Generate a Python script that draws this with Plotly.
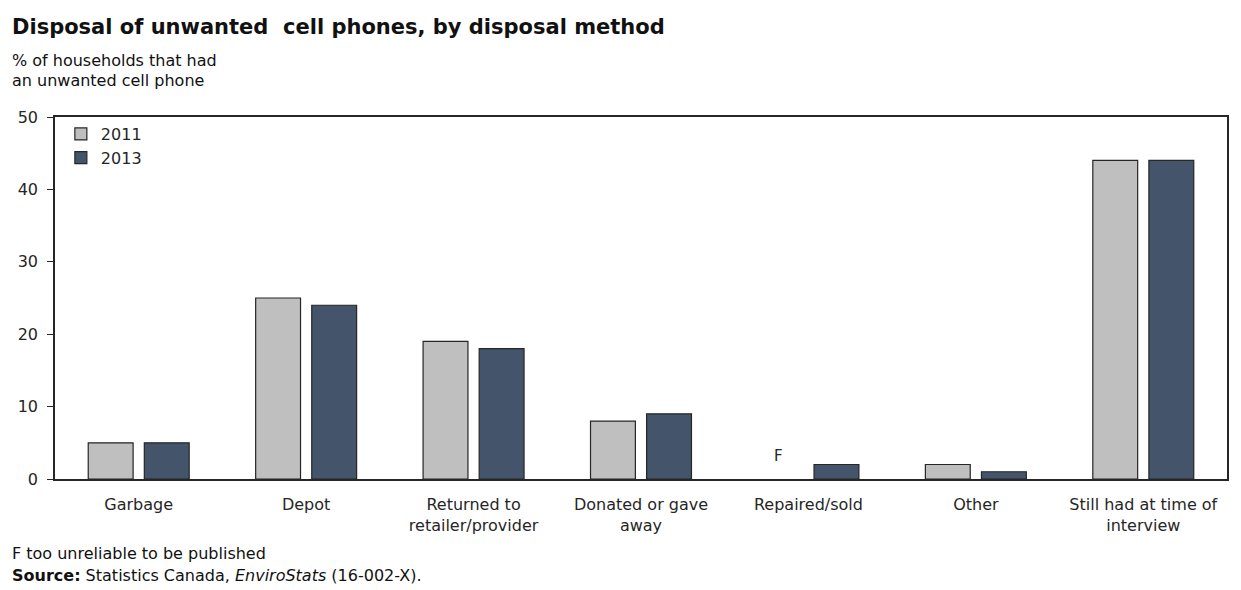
import plotly.graph_objects as go

categories = ["Garbage", "Depot", "Returned to<br>retailer/provider", "Donated or gave<br>away",
              "Repaired/sold", "Other", "Still had at time of<br>interview"]
values_2011 = [5, 25, 19, 8, None, 2, 44]
values_2013 = [5, 24, 18, 9, 2, 1, 44]
y_ticks = [0, 10, 20, 30, 40, 50]

FONT = "DejaVu Sans"
L, R, T, B = 55, 12, 117, 111
fig = go.Figure()
fig.add_trace(go.Bar(name="2011", x=categories, y=values_2011,
                     marker=dict(color="#bfbfbf", line=dict(color="#262626", width=1.2))))
fig.add_trace(go.Bar(name="2013", x=categories, y=values_2013,
                     marker=dict(color="#44546a", line=dict(color="#262626", width=1.2))))

fig.update_layout(
    width=1241, height=590,
    margin=dict(l=L, r=R, t=T, b=B),
    paper_bgcolor="white", plot_bgcolor="white",
    font=dict(family=FONT, size=16, color="#262626"),
    barmode="group", bargap=0.33, bargroupgap=0.2,
    showlegend=True,
    legend=dict(x=0.005, y=1.0, xanchor="left", yanchor="top",
                bgcolor="rgba(0,0,0,0)", font=dict(size=16, family=FONT),
                itemwidth=30, tracegroupgap=0),
    xaxis=dict(showline=True, linecolor="#262626", linewidth=1.5, mirror=True,
               ticks="", showgrid=False, tickfont=dict(size=16, family=FONT),
               ticklabelstandoff=10),
    yaxis=dict(range=[0, 50], tickvals=y_ticks, showline=True, linecolor="#262626",
               linewidth=1.5, mirror=True, ticks="outside", ticklen=6, tickcolor="#262626",
               showgrid=False, zeroline=False, tickfont=dict(size=16, family=FONT),
               ticklabelstandoff=6),
)

fig.add_annotation(x="Repaired/sold", y=0, xref="x", yref="y", text="F", showarrow=False,
                   xshift=-30, yshift=12, yanchor="bottom", font=dict(size=15, family=FONT))

pw = 1241 - L - R
ph = 590 - T - B
def px(xp, yp):
    return (xp - L) / pw, (590 - B - yp) / ph

tx, ty = px(10, 27)
fig.add_annotation(x=tx, y=ty, xref="paper", yref="paper",
                   text="<b>Disposal of unwanted  cell phones, by disposal method</b>",
                   showarrow=False, xanchor="left", yanchor="middle",
                   font=dict(size=21, family=FONT, color="#111"))
texts = [
    (60, "% of households that had"),
    (80, "an unwanted cell phone"),
    (553, "F too unreliable to be published"),
    (575, "<b>Source:</b> Statistics Canada, <i>EnviroStats</i> (16-002-X)."),
]
for ypx, t in texts:
    ax_, ay_ = px(10, ypx)
    fig.add_annotation(x=ax_, y=ay_, xref="paper", yref="paper", text=t, showarrow=False,
                       xanchor="left", yanchor="middle",
                       font=dict(size=16, family=FONT, color="#111"))

fig.write_html("out.html")
